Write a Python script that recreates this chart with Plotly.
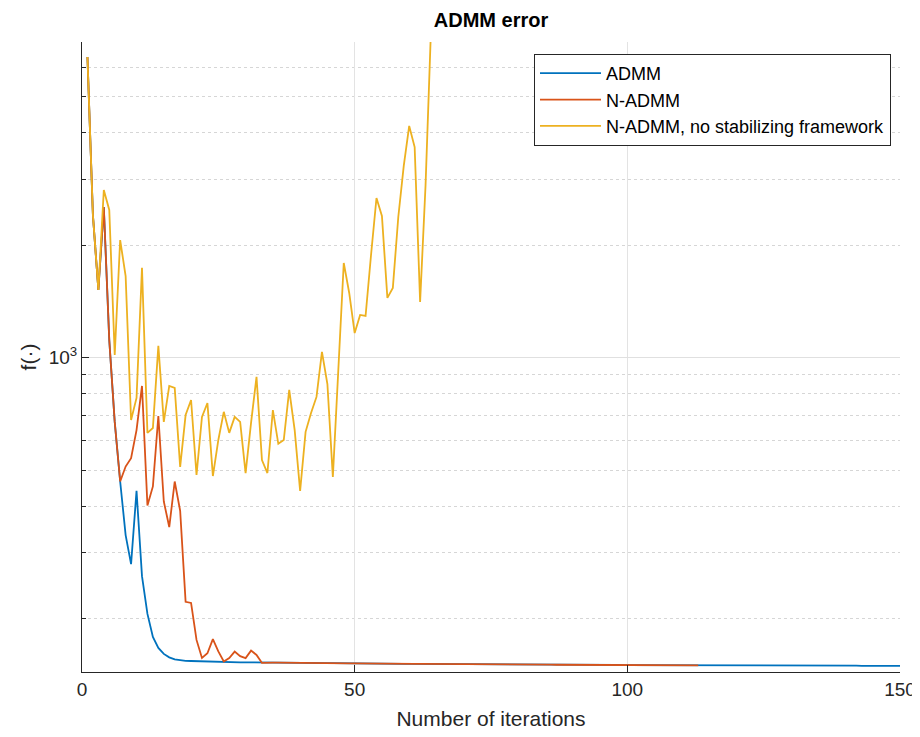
import plotly.graph_objects as go

# ---- data ----
admm = [6380, 2410, 1518, 2532, 1114, 673, 466, 335, 280, 440,
        260, 206, 178.8, 167.1, 161.0, 157.6, 155.7, 154.7,
        154.3, 154.1, 153.9, 153.7,
        153.5, 153.4, 153.3, 153.2, 153.1, 153.0, 152.9, 152.9,
        152.8, 152.8, 152.7, 152.7, 152.6, 152.6, 152.5, 152.5, 152.4, 152.4,
        152.3, 152.3, 152.2, 152.2, 152.1, 152.1, 152.0, 152.0, 151.9, 151.9,
        151.8, 151.8, 151.7, 151.7, 151.7, 151.6, 151.6, 151.5, 151.5, 151.5,
        151.4, 151.4, 151.4, 151.3, 151.3, 151.3, 151.2, 151.2, 151.2, 151.1,
        151.1, 151.1, 151.0, 151.0, 151.0, 150.9, 150.9, 150.9, 150.8, 150.8,
        150.8, 150.8, 150.7, 150.7, 150.7, 150.7, 150.6, 150.6, 150.6, 150.6,
        150.5, 150.5, 150.5, 150.5, 150.4, 150.4, 150.4, 150.4, 150.3, 150.3,
        150.3, 150.3, 150.3, 150.2, 150.2, 150.2, 150.2, 150.2, 150.1, 150.1,
        150.1, 150.1, 150.1, 150.0, 150.0, 150.0, 150.0, 150.0, 149.9, 149.9,
        149.9, 149.9, 149.9, 149.9, 149.8, 149.8, 149.8, 149.8, 149.8, 149.8,
        149.7, 149.7, 149.7, 149.7, 149.7, 149.7, 149.7, 149.7, 149.7, 149.7,
        149.7, 149.7, 149.6, 149.6, 149.6, 149.6, 149.6, 149.6, 149.6, 149.6]

n_admm = [6380, 2410, 1518, 2532, 1114, 673, 466, 511, 538, 640,
          840, 402, 452, 698, 412, 352, 466, 389, 222, 220.5,
          175.5, 157.1, 161.7, 176.3, 163.5, 153.6, 156.9, 163.3, 158.8, 156.9,
          164.3, 160.0, 152.3,
          152.7, 152.6, 152.6, 152.5, 152.5, 152.4, 152.4,
          152.3, 152.3, 152.2, 152.2, 152.1, 152.1, 152.0, 152.0, 151.9, 151.9,
          151.8, 151.8, 151.7, 151.7, 151.7, 151.6, 151.6, 151.5, 151.5, 151.5,
          151.4, 151.4, 151.4, 151.3, 151.3, 151.3, 151.2, 151.2, 151.2, 151.1,
          151.1, 151.1, 151.0, 151.0, 151.0, 150.9, 150.9, 150.9, 150.8, 150.8,
          150.8, 150.8, 150.7, 150.7, 150.7, 150.7, 150.6, 150.6, 150.6, 150.6,
          150.5, 150.5, 150.5, 150.5, 150.4, 150.4, 150.4, 150.4, 150.3, 150.3,
          150.3, 150.3, 150.3, 150.2, 150.2, 150.2, 150.2, 150.2, 150.1, 150.1,
          150.1, 150.1, 150.1]

n_admm_nostab = [6380, 2410, 1518, 2811, 2485, 1017, 2065, 1654, 681, 780,
                 1739, 629, 648, 1075, 673, 840, 830, 510, 702, 770,
                 485, 694, 756, 482, 602, 716, 629, 694, 673, 491,
                 669, 888, 532, 491, 724, 588, 602, 820, 640, 440,
                 633, 711, 785, 1036, 850, 479, 927, 1793, 1490, 1164,
                 1301, 1293, 1883, 2676, 2395, 1445, 1537, 2380, 3260, 4172,
                 3664, 1409, 2900, 6900, 20000]

series_names = ["ADMM", "N-ADMM", "N-ADMM, no stabilizing framework"]
series_colors = ["#0072BD", "#D95319", "#EDB120"]
x_ticks = [0, 50, 100, 150]
y_major = [1000]
y_major_text = ["10<sup>3</sup>"]
y_minor = [200, 300, 400, 500, 600, 700, 800, 900,
           2000, 3000, 4000, 5000, 6000, 7000]

FONT = "Liberation Sans, Arial, Helvetica, sans-serif"
AX = "#262626"

# page body has an 8px margin, so the figure is 8px smaller than the window
W, H = 912, 729

fig = go.Figure()
for i, (name, ys) in enumerate(zip(series_names, [admm, n_admm, n_admm_nostab])):
    fig.add_trace(go.Scatter(
        x=list(range(1, len(ys) + 1)), y=ys, mode="lines", name=name,
        legendgroup=name,
        line=dict(color=series_colors[i], width=1.8),
    ))

fig.update_layout(
    width=W, height=H,
    margin=dict(l=74, r=20, t=34, b=65),
    paper_bgcolor="white", plot_bgcolor="white",
    font=dict(family=FONT, color=AX, size=19),
    title=dict(text="<b>ADMM error</b>", x=0.5, xref="paper",
               y=1 - 12 / H, yanchor="middle", automargin=False,
               font=dict(size=20, color="black", family=FONT)),
    showlegend=True,
    legend=dict(x=0.989, xanchor="right", y=0.981, yanchor="top",
                bgcolor="white", bordercolor=AX, borderwidth=1,
                font=dict(size=18, color="black", family=FONT),
                tracegroupgap=2, traceorder="normal", itemwidth=61),
)

fig.update_xaxes(
    range=[0, 150], tickmode="array", tickvals=x_ticks, automargin=False,
    ticks="inside", ticklen=7, tickcolor=AX, tickwidth=1,
    showline=True, linecolor=AX, linewidth=1, mirror=False,
    showgrid=True, gridcolor="#e3e3e3", gridwidth=1, zeroline=False,
    tickfont=dict(size=19, color=AX),
    title=dict(text="Number of iterations", font=dict(size=21, color=AX), standoff=12),
)

fig.update_yaxes(
    type="log", range=[2.1584, 3.8451], automargin=False,
    tickmode="array", tickvals=y_major, ticktext=y_major_text,
    ticks="inside", ticklen=7, tickcolor=AX, tickwidth=1,
    showline=True, linecolor=AX, linewidth=1, mirror=False,
    showgrid=True, gridcolor="#e0e0e0", gridwidth=1, zeroline=False,
    tickfont=dict(size=19, color=AX),
    minor=dict(tickmode="array", tickvals=y_minor, ticks="inside", ticklen=4,
               tickcolor=AX, showgrid=True, gridcolor="#d6d6d6",
               griddash="dot", gridwidth=1),
    title=dict(text="f(·)", font=dict(size=21, color=AX), standoff=6),
)

fig.write_html("out.html")
